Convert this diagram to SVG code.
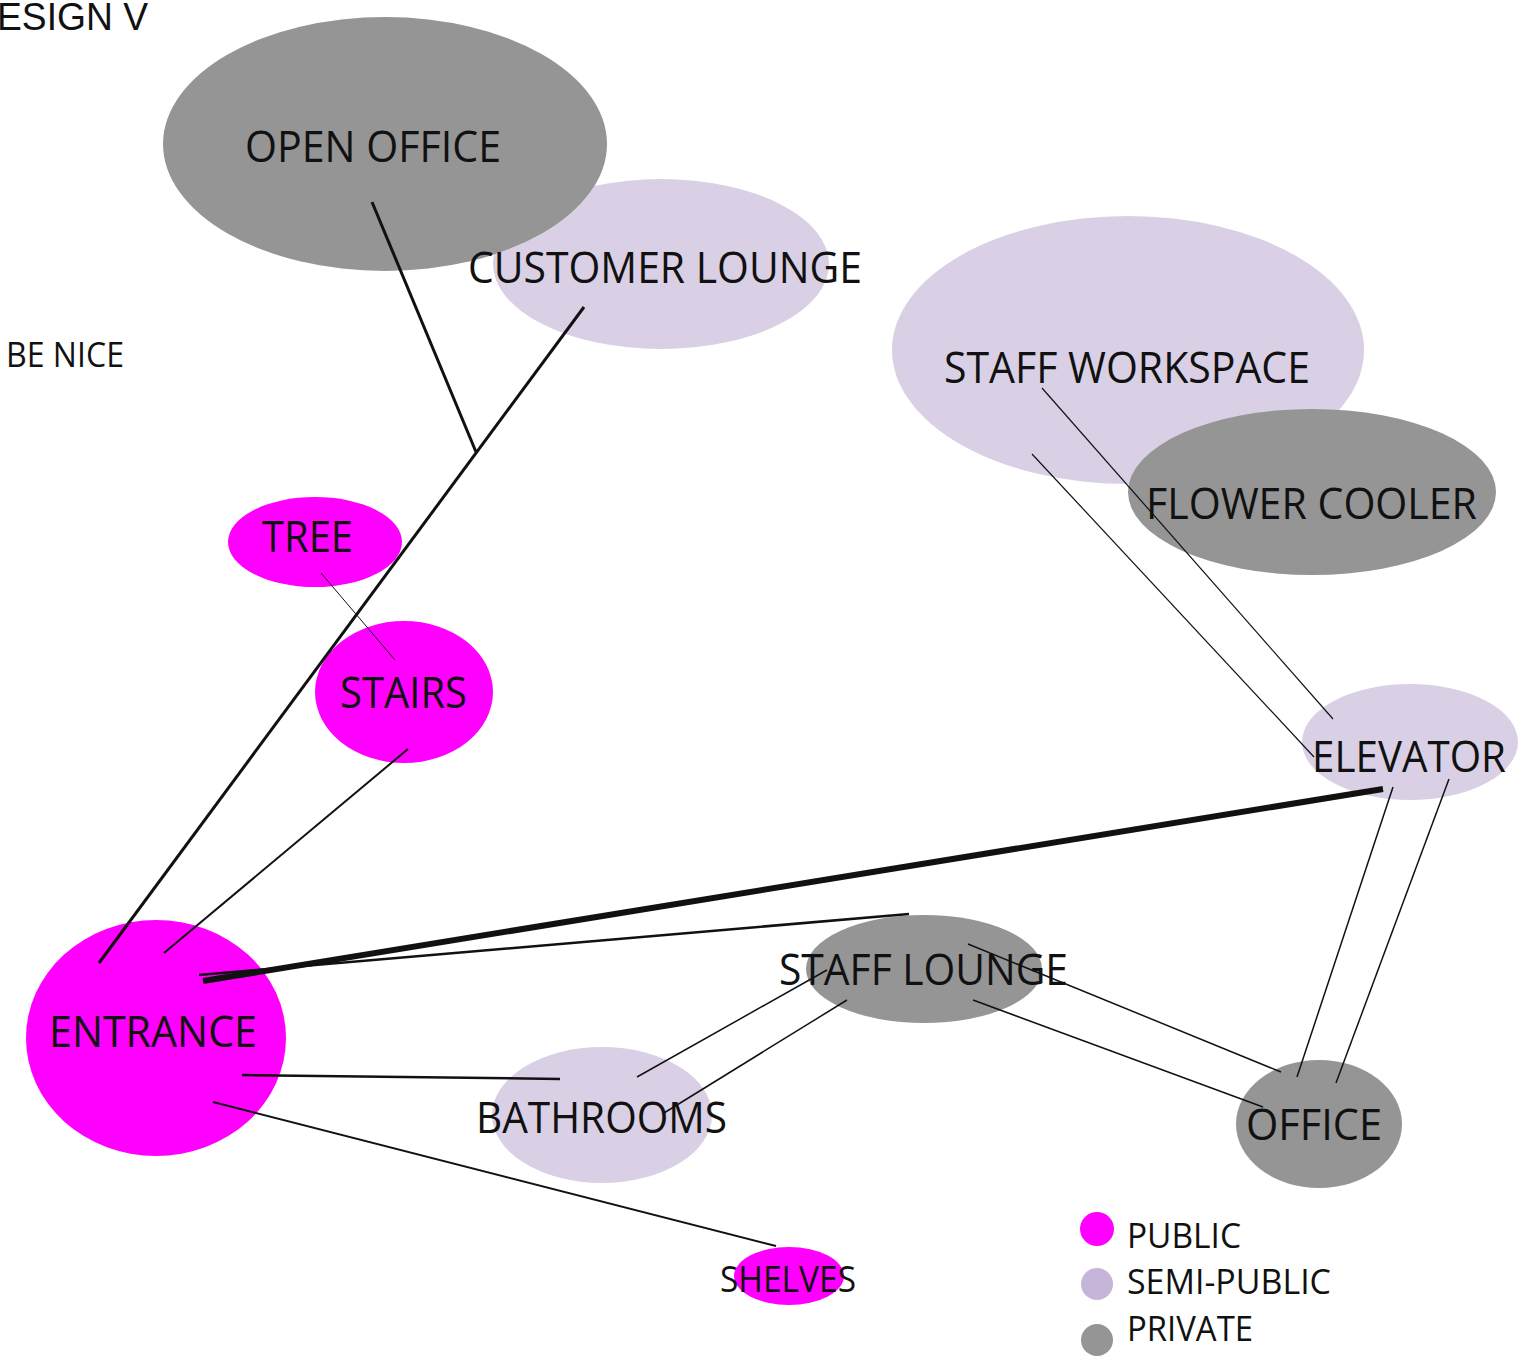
<svg xmlns="http://www.w3.org/2000/svg" width="1535" height="1363" viewBox="0 0 1535 1363">
<style>
.pub{fill:#ff00ff}
.semi{fill:#d9d0e5}
.priv{fill:#959595}
.lbl{font-family:"Open Sans","Noto Sans",sans-serif;font-size:44px;fill:#111}
.sm{font-family:"Open Sans","Noto Sans",sans-serif;font-size:35px;fill:#111}
.ln{stroke:#111;fill:none;stroke-linecap:butt}
</style>
<defs>
<mask id="cutOpen">
<rect x="0" y="0" width="1535" height="1363" fill="#fff"/>
<ellipse cx="385" cy="144" rx="222" ry="127" fill="#000"/>
</mask>
</defs>
<rect width="1535" height="1363" fill="#fff"/>
<text x="-3" y="30" font-family="Liberation Sans, Arial, sans-serif" font-size="38" fill="#111" textLength="151" lengthAdjust="spacingAndGlyphs">ESIGN V</text>
<text x="6" y="367" class="sm" textLength="118" lengthAdjust="spacingAndGlyphs">BE NICE</text>

<g id="open-office">
<ellipse class="priv" cx="385" cy="144" rx="222" ry="127"/>
<text class="lbl" x="245" y="162" textLength="256" lengthAdjust="spacingAndGlyphs">OPEN OFFICE</text>
</g>
<g id="customer-lounge">
<ellipse class="semi" cx="661" cy="264" rx="168" ry="85" mask="url(#cutOpen)"/>
<text class="lbl" x="468" y="283" textLength="394" lengthAdjust="spacingAndGlyphs">CUSTOMER LOUNGE</text>
</g>
<g id="staff-workspace">
<ellipse class="semi" cx="1128" cy="350" rx="236" ry="134"/>
<text class="lbl" x="944" y="383" textLength="366" lengthAdjust="spacingAndGlyphs">STAFF WORKSPACE</text>
</g>
<g id="flower-cooler">
<ellipse class="priv" cx="1312" cy="492" rx="184" ry="83"/>
<text class="lbl" x="1146" y="519" textLength="331" lengthAdjust="spacingAndGlyphs">FLOWER COOLER</text>
</g>
<g id="tree">
<ellipse class="pub" cx="315" cy="542" rx="87" ry="45"/>
<text class="lbl" x="262" y="552" textLength="91" lengthAdjust="spacingAndGlyphs">TREE</text>
</g>
<g id="stairs">
<ellipse class="pub" cx="404" cy="692" rx="89" ry="71"/>
<text class="lbl" x="340" y="708" textLength="127" lengthAdjust="spacingAndGlyphs">STAIRS</text>
</g>
<g id="elevator">
<ellipse class="semi" cx="1410" cy="742" rx="108" ry="58"/>
<text class="lbl" x="1312" y="772" textLength="194" lengthAdjust="spacingAndGlyphs">ELEVATOR</text>
</g>
<g id="entrance">
<ellipse class="pub" cx="156" cy="1038" rx="130" ry="118"/>
<text class="lbl" x="49" y="1047" textLength="208" lengthAdjust="spacingAndGlyphs">ENTRANCE</text>
</g>
<g id="staff-lounge">
<ellipse class="priv" cx="924" cy="969" rx="118" ry="54"/>
<text class="lbl" x="779" y="985" textLength="289" lengthAdjust="spacingAndGlyphs">STAFF LOUNGE</text>
</g>
<g id="bathrooms">
<ellipse class="semi" cx="602" cy="1115" rx="110" ry="68"/>
<text class="lbl" x="476" y="1133" textLength="251" lengthAdjust="spacingAndGlyphs">BATHROOMS</text>
</g>
<g id="office">
<ellipse class="priv" cx="1319" cy="1124" rx="83" ry="64"/>
<text class="lbl" x="1246" y="1140" textLength="136" lengthAdjust="spacingAndGlyphs">OFFICE</text>
</g>
<g id="shelves">
<ellipse class="pub" cx="789" cy="1276" rx="55" ry="29"/>
<text class="lbl" x="720" y="1292" font-size="36" style="font-size:36px" textLength="136" lengthAdjust="spacingAndGlyphs">SHELVES</text>
</g>

<g id="connectors">
<line class="ln" x1="372" y1="202" x2="476" y2="452" stroke-width="3"/>
<line class="ln" x1="584" y1="307" x2="99" y2="963" stroke-width="3"/>
<line class="ln" x1="321" y1="573" x2="395" y2="660" stroke-width="1"/>
<line class="ln" x1="408" y1="749" x2="164" y2="953" stroke-width="2"/>
<line class="ln" x1="203" y1="981" x2="1383" y2="789" stroke-width="6"/>
<line class="ln" x1="199" y1="975" x2="909" y2="914" stroke-width="2.5"/>
<line class="ln" x1="242" y1="1075" x2="560" y2="1079" stroke-width="2.5"/>
<line class="ln" x1="213" y1="1102" x2="776" y2="1246" stroke-width="2"/>
<line class="ln" x1="637" y1="1077" x2="827" y2="970" stroke-width="1.5"/>
<line class="ln" x1="847" y1="1000" x2="664" y2="1113" stroke-width="1.5"/>
<line class="ln" x1="968" y1="944" x2="1281" y2="1072" stroke-width="1.5"/>
<line class="ln" x1="973" y1="1000" x2="1263" y2="1107" stroke-width="1.5"/>
<line class="ln" x1="1393" y1="787" x2="1297" y2="1077" stroke-width="1.5"/>
<line class="ln" x1="1449" y1="779" x2="1336" y2="1083" stroke-width="1.5"/>
<line class="ln" x1="1042" y1="388" x2="1333" y2="719" stroke-width="1.2"/>
<line class="ln" x1="1032" y1="454" x2="1314" y2="757" stroke-width="1.2"/>
</g>

<g id="legend">
<circle cx="1097" cy="1229" r="17" fill="#ff00ff"/>
<circle cx="1097" cy="1284" r="16" fill="#c4b5d9"/>
<circle cx="1097" cy="1340" r="16" fill="#959595"/>
<text class="sm" x="1127" y="1248" textLength="114" lengthAdjust="spacingAndGlyphs">PUBLIC</text>
<text class="sm" x="1127" y="1294" textLength="204" lengthAdjust="spacingAndGlyphs">SEMI-PUBLIC</text>
<text class="sm" x="1127" y="1341" textLength="126" lengthAdjust="spacingAndGlyphs">PRIVATE</text>
</g>
</svg>
